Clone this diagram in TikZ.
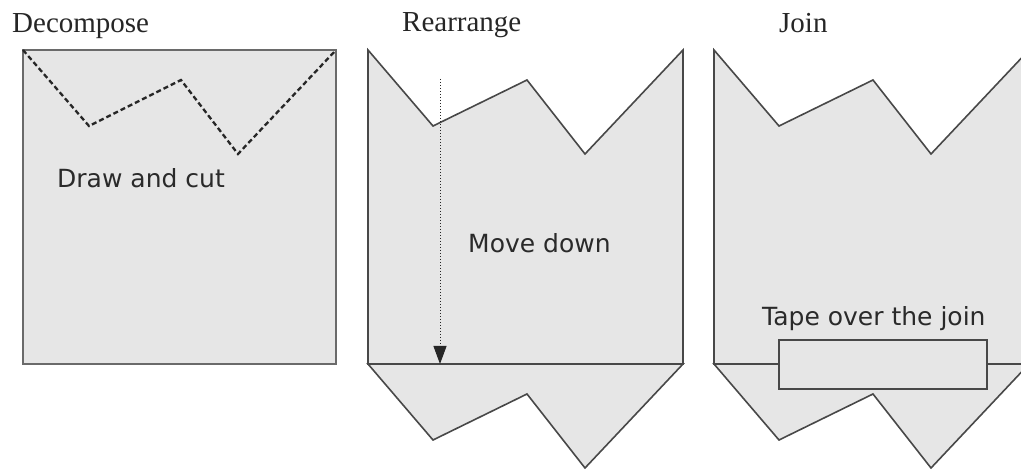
\documentclass[tikz,border=0pt]{standalone}
\usepackage{fontspec}
\setmainfont{Liberation Serif}
\newfontfamily\labelfont{DejaVu Sans}
\usetikzlibrary{arrows.meta}
\definecolor{paper}{HTML}{E6E6E6}
\definecolor{edge}{HTML}{484848}
\definecolor{frame}{HTML}{6A6A6A}
\definecolor{ink}{HTML}{2A2A2A}
\tikzset{
  piece/.style={fill=paper, draw=edge, line width=1.6pt, line join=miter},
  cutline/.style={draw=black!85, line width=2.3pt, dash pattern=on 5pt off 3pt},
  title/.style={anchor=base west, inner sep=0pt, font=\fontsize{29}{32}\selectfont, text=black!85},
  note/.style={anchor=base west, inner sep=0pt, font=\labelfont\fontsize{25}{28}\selectfont, text=ink},
  movearrow/.style={draw=black!85, line width=1pt, dotted, -{Triangle[length=18pt,width=13pt]}}
}
\begin{document}
\begin{tikzpicture}[x=1pt,y=-1pt]
\useasboundingbox (0,0) rectangle (1021,470);
\clip (0,0) rectangle (1021,470);
% titles
\node[title] (t1) at (12,33) {Decompose};
\node[title] (t2) at (402,32) {Rearrange};
\node[title] (t3) at (779,33) {Join};
% panel 1
\draw[fill=paper, draw=frame, line width=2.2pt] (23,50) rectangle (336,364);
\draw[cutline] (23,50) -- (89,126) -- (181,80) -- (238,154) -- (336,50);
\node[note] (n1) at (57,188) {Draw and cut};
% panel 2
\draw[piece] (368,50) -- (433,126) -- (527,80) -- (585,154) -- (683,50) -- (683,364) -- (368,364) -- cycle;
\draw[piece] (368,364) -- (433,440) -- (527,394) -- (585,468) -- (683,364) -- cycle;
\coordinate (a1) at (440,79);
\coordinate (a2) at (440,364);
\draw[movearrow] (a1) -- (a2);
\node[note] (n2) at (468,253) {Move down};
% panel 3
\draw[piece] (714,50) -- (779,126) -- (873,80) -- (931,154) -- (1029,50) -- (1029,364) -- (714,364) -- cycle;
\draw[piece] (714,364) -- (779,440) -- (873,394) -- (931,468) -- (1029,364) -- cycle;
\node[note] (n3) at (762,326) {Tape over the join};
\node[piece, minimum width=208pt, minimum height=49pt, inner sep=0pt, anchor=north west] (tape) at (778,339) {};
\end{tikzpicture}
\end{document}
